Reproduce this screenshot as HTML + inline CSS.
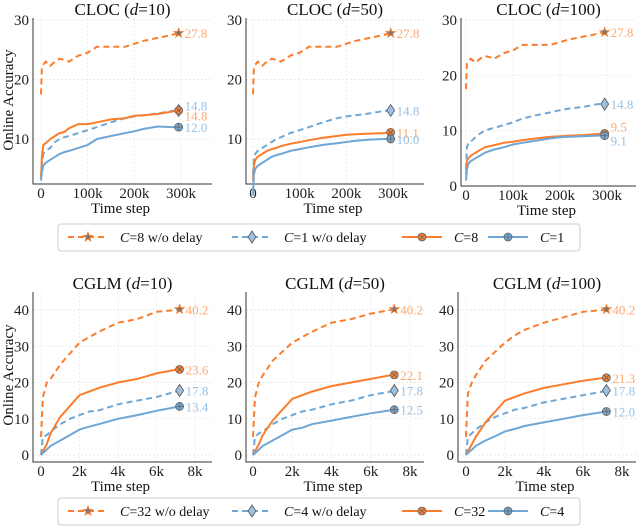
<!DOCTYPE html>
<html><head><meta charset="utf-8"><style>
body{margin:0;background:#fff;width:640px;height:527px;overflow:hidden;font-family:"Liberation Serif",serif}
svg text{font-family:"Liberation Serif",serif}
</style></head><body>
<svg id="c" width="640" height="527"></svg>
<script>
const ORANGE="#fb7d2b", BLUE="#6ea6d6", OL="#ffa872", BL="#98c1e4";
const topX=[0,2,5,10,20,30,40,50,60,80,100,120,150,180,200,220,250,280,295];
const botX=[0,0.1,0.3,0.5,1,1.5,2,2.5,3,4,5,6,7,7.2];
const topTitles=["CLOC (d=10)","CLOC (d=50)","CLOC (d=100)"];
const botTitles=["CGLM (d=10)","CGLM (d=50)","CGLM (d=100)"];
const topA=[[17.5,22,22.5,23,22.3,23,23.5,23.3,23,24,24.5,25.5,25.5,25.5,26,26.5,27,27.5,27.8],
[17.5,22,22.5,23,22.3,23,23.5,23.3,23,24,24.5,25.5,25.5,25.5,26,26.5,27,27.5,27.8],
[17.5,22,22.5,23,22.3,23,23.5,23.3,23,24,24.5,25.5,25.5,25.5,26,26.5,27,27.5,27.8]];
const topB=[[3.5,6,7.5,8,8.5,9.5,10,10.3,10.5,11,11.5,12,12.8,13.5,13.8,14,14.3,14.7,14.8],
[4,7,7.5,8,8.5,9,9.5,10,10.3,11,11.5,12,12.8,13.5,13.8,14,14.3,14.7,14.8],
[3,7,7.8,8,8.8,9.5,10,10.3,10.5,11,11.5,12.2,12.8,13.3,13.7,14,14.3,14.8,14.8]];
const topC=[[3.5,7,9,9.3,10,10.5,11,11.2,11.8,12.5,12.5,12.8,13.3,13.5,13.9,14,14.2,14.6,14.8],
[3,5.5,6.5,7,7.5,8,8.3,8.5,8.8,9.2,9.5,9.8,10.2,10.5,10.7,10.8,10.9,11,11.1],
[2,4.5,5,5.5,6,6.5,7,7.2,7.4,7.8,8,8.3,8.6,8.9,9,9.1,9.2,9.4,9.5]];
const topD=[[3,4.5,5.5,6,6.5,7,7.5,7.8,8,8.5,9,10,10.5,11,11.3,11.7,12.1,12,12.0],
[0.5,4,5,5.5,6,6.5,7,7.3,7.5,8,8.3,8.6,9,9.3,9.5,9.7,9.9,10,10.0],
[1,3,4,4.5,5,5.5,6,6.3,6.6,7,7.5,7.8,8.2,8.6,8.8,8.9,9,9.1,9.1]];
const botA=[[5,16,20,21,25,28,31,32.5,34,36.5,37.5,39.5,40,40.2],
[5,16,20,22,26,28.5,31,32.5,34,36.5,37.5,39,40,40.2],
[5,17,20,22,26,28.5,31,33,34.5,36.5,38,39.5,40,40.2]];
const botB=[[0,5,5.5,6.5,8.5,10,11,12,12.3,14,15,16,17.5,17.8],
[0,5,6,6.5,8.5,10,11,12,12.5,14,15,16.5,17.5,17.8],
[0,5,6,7,9,10.5,11.5,12.5,13,14.5,15.5,16.5,17.5,17.8]];
const botC=[[0,1,3,6,10.5,13.5,16.5,17.5,18.5,20,21,22.5,23.5,23.6],
[0,1,3,5.5,9.5,12.5,15.5,16.5,17.5,19,20,21,22,22.1],
[0,1,3,5,9,12,15,16,17,18.5,19.5,20.5,21.2,21.3]];
const botD=[[0,0.5,1.5,2.5,4,5.5,7,7.8,8.5,10,11,12.2,13.2,13.4],
[0,0.5,1.5,2.5,4,5.5,7,7.5,8.5,9.5,10.5,11.5,12.3,12.5],
[0,0.5,1.5,2.5,4,5.2,6.5,7.2,8,9,10,11,11.8,12.0]];
const yTicksTop=[[10,20,30],[10,20,30],[0,10,20,30]];
const yTicksBot=[0,10,20,30,40];
const xTicksTop=[0,100,200,300], xTicksTopL=["0","100k","200k","300k"];
const xTicksBot=[0,2,4,6,8], xTicksBotL=["0","2k","4k","6k","8k"];
const NS="http://www.w3.org/2000/svg", svg=document.getElementById('c');
function el(t,a,p){const e=document.createElementNS(NS,t);for(const k in a)e.setAttribute(k,a[k]);(p||svg).appendChild(e);return e;}
function mk(kind,x,y,col,g){
 if(kind==="star"){const pts=[];for(let i=0;i<10;i++){const r=i%2?2:5,a=-Math.PI/2+i*Math.PI/5;pts.push((x+r*Math.cos(a)).toFixed(1)+","+(y+r*Math.sin(a)).toFixed(1));}
  const m=el('polygon',{points:pts.join(' '),fill:"#777",stroke:col,'stroke-width':0.8},g);}
 else if(kind==="diamond"){const m=el('polygon',{points:`${x},${y-6} ${x+4},${y} ${x},${y+6} ${x-4},${y}`,fill:"#9dbfe0",stroke:"#555",'stroke-width':0.8},g);}
 else {const m=el('circle',{cx:x,cy:y,r:4,fill:col,stroke:"#666",'stroke-width':0.8},g);
  if(kind==="x"){el('path',{d:`M${x-3},${y-3}L${x+3},${y+3}M${x-3},${y+3}L${x+3},${y-3}`,stroke:"#666",'stroke-width':0.8},g);}
  else el('path',{d:`M${x-4},${y}L${x+4},${y}M${x},${y-4}L${x},${y+4}`,stroke:"#666",'stroke-width':0.8},g);}
}
function panel(p){
 const g=el('g',{});
 const sx=v=>p.x0+(v-p.xa)/(p.xb-p.xa)*(p.x1-p.x0);
 const sy=v=>p.y1-(v-p.ya)/(p.yb-p.ya)*(p.y1-p.y0);
 p.yt.forEach(t=>{el('line',{x1:p.L,x2:p.R,y1:sy(t),y2:sy(t),stroke:"#e4e4e4",'stroke-dasharray':"2,2",'stroke-width':0.7},g);
  const tx=el('text',{x:p.L-4,y:sy(t)+5,'text-anchor':'end','font-size':15,fill:"#222"},g);tx.textContent=t;});
 p.xt.forEach((t,i)=>{el('line',{x1:sx(t),x2:sx(t),y1:p.T,y2:p.B,stroke:"#e4e4e4",'stroke-dasharray':"2,2",'stroke-width':0.7},g);
  const tx=el('text',{x:sx(t),y:p.B+14,'text-anchor':'middle','font-size':15,fill:"#222"},g);tx.textContent=p.xl[i];});
 el('path',{d:`M${p.L},${p.T}L${p.L},${p.B}L${p.R},${p.B}`,fill:"none",stroke:"#333",'stroke-width':1},g);
 const tt=el('text',{x:(p.L+p.R)/2,y:p.T-3,'text-anchor':'middle','font-size':17,fill:"#111"},g);
 const parts=p.title.split("d=");tt.innerHTML=parts[0]+'<tspan font-style="italic">d</tspan>='+parts[1];
 
 const xt=el('text',{x:(p.L+p.R)/2-2,y:p.B+29,'text-anchor':'middle','font-size':15,fill:"#111"},g);xt.textContent="Time step";
 
 const ser=[[p.b,BLUE,BL,"6,4","diamond",p.dyb],[p.a,ORANGE,OL,"6,4","star",p.dya],[p.c,ORANGE,OL,null,"x",p.dyc],[p.d,BLUE,BL,null,"plus",p.dyd]];
 ser.forEach(s=>{const d=s[0].map((v,i)=>(i?"L":"M")+sx(p.xs[i]).toFixed(1)+","+sy(v).toFixed(1)).join("");
  const pa=el('path',{d:d,fill:"none",stroke:s[1],'stroke-width':2},g);if(s[3])pa.setAttribute('stroke-dasharray',s[3]);
  
  const n=s[0].length-1,lx=sx(p.xs[n]),ly=sy(s[0][n]);mk(s[4],lx,ly,s[1],g);
  const lb=el('text',{x:lx+6,y:ly+5+(s[5]||0),'font-size':13,fill:s[2]},g);lb.textContent=s[0][n].toFixed(1);
  });
}
const topCols=[{L:33,R:212,x0:41,x1:181},{L:246,R:424,x0:253,x1:393},{L:461,R:636,x0:466,x1:607}];
const botCols=[{L:33,R:212,x0:41,x1:195},{L:246,R:424,x0:253,x1:410},{L:458,R:636,x0:466,x1:622}];
const topY=[{ya:10,yb:30,y1:139,y0:20,B:184},{ya:10,yb:30,y1:139,y0:20,B:184},{ya:0,yb:30,y1:186,y0:20,B:186}];
const topOff=[[0,-5,5,0],[0,0,0,0],[0,0,-7,5]];
for(let i=0;i<3;i++){const c=topCols[i],y=topY[i];
 panel({name:'panel-cloc-'+i,L:c.L,R:c.R,T:18,B:y.B,x0:c.x0,x1:c.x1,xa:0,xb:300,y0:y.y0,y1:y.y1,ya:y.ya,yb:y.yb,xs:topX,a:topA[i],b:topB[i],c:topC[i],d:topD[i],yt:yTicksTop[i],xt:xTicksTop,xl:xTicksTopL,title:topTitles[i],dya:0,dyb:topOff[i][1],dyc:topOff[i][2],dyd:topOff[i][3]});}
for(let i=0;i<3;i++){const c=botCols[i];
 panel({name:'panel-cglm-'+i,L:c.L,R:c.R,T:292,B:462,x0:c.x0,x1:c.x1,xa:0,xb:8,y0:310,y1:455,ya:0,yb:40,xs:botX,a:botA[i],b:botB[i],c:botC[i],d:botD[i],yt:yTicksBot,xt:xTicksBot,xl:xTicksBotL,title:botTitles[i],dya:0,dyb:0,dyc:0,dyd:0});}
[[100,"Online Accuracy"],[375,"Online Accuracy"]].forEach(a=>{const t=el('text',{x:0,y:0,transform:`translate(13,${a[0]}) rotate(-90)`,'text-anchor':'middle','font-size':15,fill:"#111"});t.textContent=a[1];
 });
function legend(y,labels){
 const g=el('g',{});
 el('rect',{x:58,y:y-13,width:522,height:27,rx:3,fill:"#fff",stroke:"#ccc"},g);
 const xs=[68,232,402,488],st=[[ORANGE,"6,4","star"],[BLUE,"6,4","diamond"],[ORANGE,null,"x"],[BLUE,null,"plus"]];
 xs.forEach((x,i)=>{const l=el('line',{x1:x,x2:x+40,y1:y,y2:y,stroke:st[i][0],'stroke-width':2},g);if(st[i][1])l.setAttribute('stroke-dasharray',st[i][1]);
  mk(st[i][2],x+20,y,st[i][0],g);
  const t=el('text',{x:x+52,y:y+5,'font-size':14,fill:"#111"},g);t.innerHTML='<tspan font-style="italic">C</tspan>'+labels[i];
  });
}
legend(237,["=8 w/o delay","=1 w/o delay","=8","=1"]);
legend(511,["=32 w/o delay","=4 w/o delay","=32","=4"]);
</script></body></html>
